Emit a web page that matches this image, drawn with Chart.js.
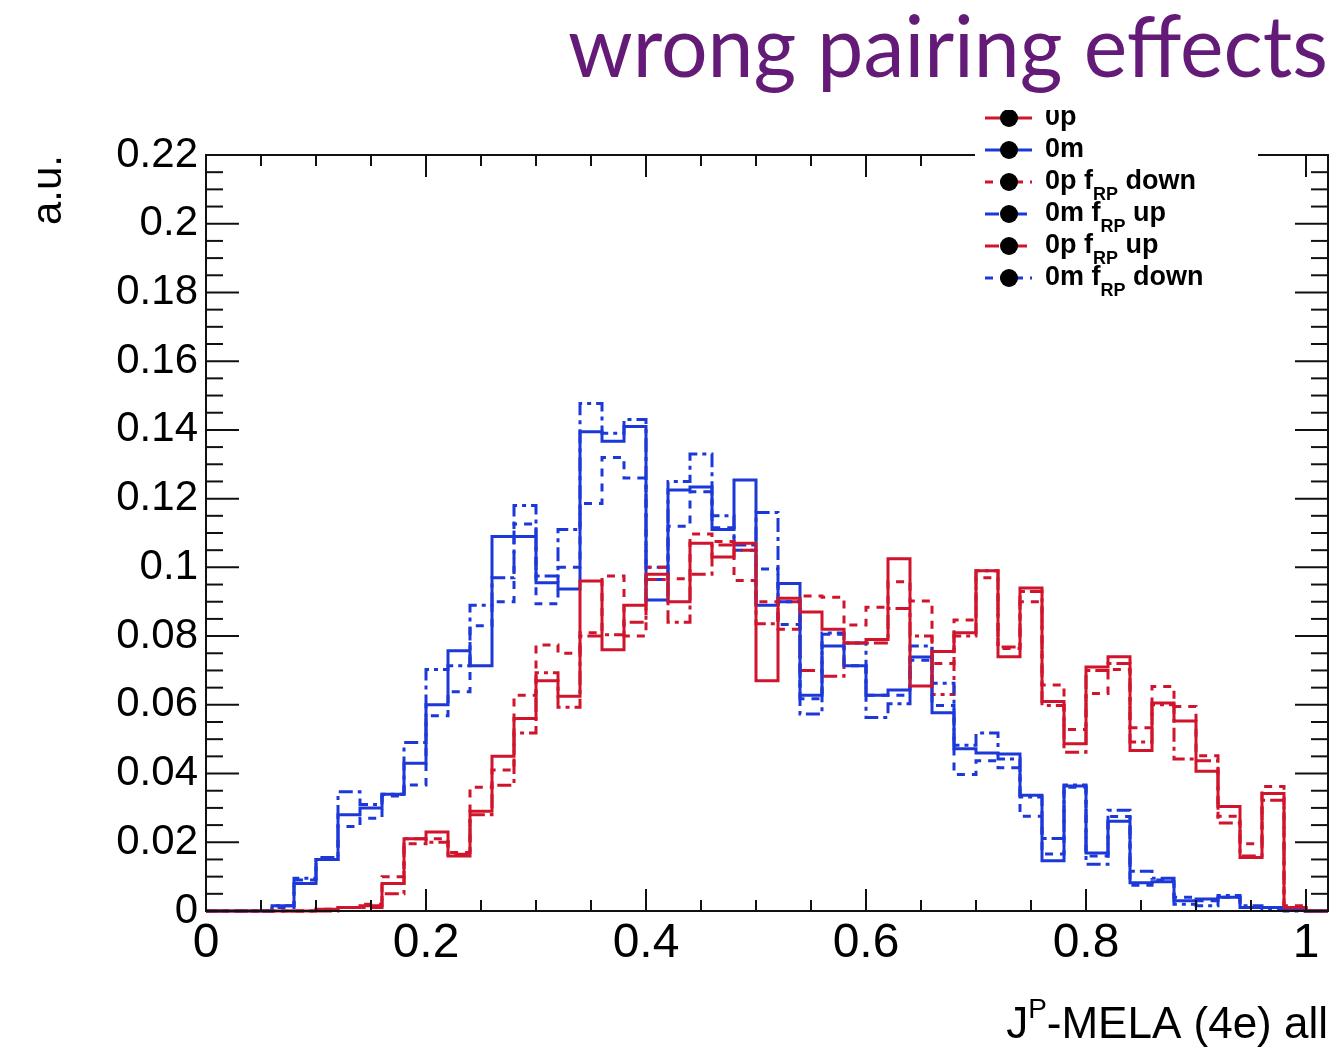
<!DOCTYPE html>
<html>
<head>
<meta charset="utf-8">
<title>wrong pairing effects</title>
<script src="https://cdn.jsdelivr.net/npm/chart.js@4.4.1/dist/chart.umd.min.js"></script>
<style>
  html, body { margin: 0; padding: 0; background: #fff; }
  canvas { display: block; }
</style>
</head>
<body>
<canvas id="mela" width="1343" height="1048"></canvas>
<script>
// JP-MELA (4e) all, 51 bins of 0.02 from 0 to 1.02
const zeroP = [0, 0, 0, 0, 0, 0.0005, 0.001, 0.0015, 0.008, 0.021,
  0.023, 0.016, 0.029, 0.045, 0.056, 0.067, 0.0625, 0.096, 0.076, 0.089,
  0.098, 0.090, 0.107, 0.103, 0.107, 0.067, 0.091, 0.087, 0.082, 0.078,
  0.079, 0.1025, 0.0655, 0.0755, 0.081, 0.099, 0.074, 0.094, 0.061, 0.0487,
  0.071, 0.074, 0.0467, 0.0605, 0.0553, 0.0407, 0.0304, 0.0156, 0.0342, 0.001,
  0];
const zeroM = [0, 0, 0, 0.0015, 0.008, 0.015, 0.028, 0.030, 0.034, 0.043,
  0.060, 0.0757, 0.0714, 0.109, 0.109, 0.0955, 0.0937, 0.1395, 0.1367, 0.141,
  0.0905, 0.1225, 0.1234, 0.111, 0.1254, 0.089, 0.0953, 0.0628, 0.0771, 0.0714,
  0.0628, 0.0643, 0.0739, 0.0577, 0.0472, 0.046, 0.0457, 0.0337, 0.0146, 0.0364,
  0.0169, 0.0261, 0.0082, 0.0085, 0.003, 0.0035, 0.004, 0.001, 0.001, 0.0005,
  0];
const zeroPDown = [0, 0, 0, 0, 0, 0.0005, 0.001, 0.002, 0.010, 0.0196,
  0.021, 0.017, 0.036, 0.041, 0.0628, 0.0774, 0.075, 0.081, 0.0975, 0.080,
  0.100, 0.0967, 0.1097, 0.1075, 0.0962, 0.090, 0.082, 0.0917, 0.0913, 0.0832,
  0.0884, 0.0958, 0.0902, 0.072, 0.0847, 0.097, 0.0764, 0.090, 0.0658, 0.0528,
  0.0633, 0.0703, 0.0533, 0.0653, 0.0595, 0.0452, 0.0276, 0.0196, 0.0362, 0.0015,
  0];
const zeroMUp = [0, 0, 0, 0.0015, 0.0095, 0.0156, 0.0347, 0.031, 0.034, 0.049,
  0.0703, 0.0714, 0.089, 0.097, 0.118, 0.0975, 0.111, 0.1477, 0.139, 0.143,
  0.100, 0.125, 0.133, 0.115, 0.1065, 0.116, 0.090, 0.0573, 0.0809, 0.078,
  0.0563, 0.0603, 0.0771, 0.0663, 0.0482, 0.0518, 0.0442, 0.0332, 0.0211, 0.0367,
  0.0136, 0.0293, 0.0116, 0.0095, 0.002, 0.0015, 0.0045, 0.0015, 0.0005, 0,
  0];
const zeroPUp = [0, 0, 0, 0, 0, 0, 0.001, 0.001, 0.005, 0.021,
  0.020, 0.0165, 0.028, 0.0366, 0.0518, 0.0693, 0.0593, 0.080, 0.0804, 0.084,
  0.0965, 0.084, 0.098, 0.1065, 0.105, 0.0836, 0.090, 0.070, 0.0683, 0.078,
  0.078, 0.088, 0.080, 0.063, 0.080, 0.099, 0.0768, 0.093, 0.0598, 0.0462,
  0.070, 0.072, 0.0492, 0.060, 0.0442, 0.0437, 0.0256, 0.016, 0.0322, 0.001,
  0];
const zeroMDown = [0, 0, 0, 0.001, 0.009, 0.015, 0.0246, 0.027, 0.0335, 0.0367,
  0.0568, 0.0638, 0.083, 0.090, 0.1126, 0.0894, 0.100, 0.1186, 0.132, 0.126,
  0.0965, 0.112, 0.122, 0.1115, 0.105, 0.0995, 0.0834, 0.0618, 0.0805, 0.0714,
  0.0628, 0.0628, 0.073, 0.0598, 0.0397, 0.0437, 0.0417, 0.0276, 0.0166, 0.036,
  0.016, 0.0275, 0.0075, 0.009, 0.004, 0.003, 0.004, 0.001, 0.001, 0.0005,
  0];

const xTicks = [0, 0.2, 0.4, 0.6, 0.8, 1];
const legendNames = [
  ["0p"], ["0m"],
  ["0p f", "RP", " down"], ["0m f", "RP", " up"],
  ["0p f", "RP", " up"], ["0m f", "RP", " down"]
];

const RED = "#d0142c";
const BLUE = "#1c38d8";
const DASH = [8, 7];
const DASHDOT = [14, 5, 4, 5];

const binEdges = [];
for (let i = 0; i <= zeroP.length; i++) binEdges.push(+(i * 0.02).toFixed(2));

function toSteps(vals) {
  const pts = vals.map((v, i) => ({ x: binEdges[i], y: v }));
  pts.push({ x: binEdges[vals.length], y: vals[vals.length - 1] });
  return pts;
}

function histo(label, vals, color, dash) {
  return {
    label: label,
    data: toSteps(vals),
    borderColor: color,
    borderWidth: 3,
    borderDash: dash,
    stepped: true,
    pointRadius: 0,
    fill: false,
    clip: 6
  };
}

const series = [
  histo("0p", zeroP, RED, []),
  histo("0m", zeroM, BLUE, []),
  histo("0p fRP down", zeroPDown, RED, DASH),
  histo("0m fRP up", zeroMUp, BLUE, DASHDOT),
  histo("0p fRP up", zeroPUp, RED, DASHDOT),
  histo("0m fRP down", zeroMDown, BLUE, DASH)
];

function seg(ctx, x1, y1, x2, y2) {
  ctx.beginPath();
  ctx.moveTo(x1, y1);
  ctx.lineTo(x2, y2);
  ctx.stroke();
}

// frame with inward ticks, legend, titles
const decorations = {
  id: "decorations",
  afterDatasetsDraw(chart) {
    const { ctx, chartArea: a } = chart;
    const xs = chart.scales.x, ys = chart.scales.y;
    ctx.save();
    ctx.strokeStyle = "#111";
    ctx.lineWidth = 2;
    ctx.strokeRect(a.left, a.top, a.right - a.left, a.bottom - a.top);

    ctx.lineWidth = 2;
    for (let i = 0; i <= 44; i++) {
      const py = ys.getPixelForValue(i * 0.005);
      const len = i % 4 === 0 ? 33 : 17;
      seg(ctx, a.left, py, a.left + len, py);
      seg(ctx, a.right, py, a.right - len, py);
    }
    for (let i = 0; i <= 20; i++) {
      const px = xs.getPixelForValue(i * 0.05);
      const len = i % 4 === 0 ? 22 : 11;
      seg(ctx, px, a.bottom, px, a.bottom - len);
      seg(ctx, px, a.top, px, a.top + len);
    }

    // legend box (covers the top frame)
    ctx.fillStyle = "#fff";
    ctx.fillRect(975, 96, 283, 196);
    series.forEach((ds, i) => {
      const cy = 118 + i * 32;
      ctx.strokeStyle = ds.borderColor;
      ctx.lineWidth = 3;
      ctx.setLineDash(ds.borderDash);
      seg(ctx, 985, cy, 1032, cy);
      ctx.setLineDash([]);
      ctx.fillStyle = "#000";
      ctx.beginPath();
      ctx.arc(1009, cy, 9, 0, Math.PI * 2);
      ctx.fill();

      const parts = legendNames[i];
      let tx = 1045;
      ctx.textBaseline = "middle";
      ctx.textAlign = "left";
      parts.forEach((p, k) => {
        const sub = k === 1;
        ctx.font = sub ? 'bold 18px "Liberation Sans"' : 'bold 27px "Liberation Sans"';
        ctx.fillText(p, tx, sub ? cy + 13 : cy);
        tx += ctx.measureText(p).width;
      });
    });

    // heading strip clips the first legend row, as in the slide
    ctx.fillStyle = "#fff";
    ctx.fillRect(960, 0, 383, 110);
    ctx.fillStyle = "#641b77";
    ctx.font = '86px "Lato"';
    ctx.textBaseline = "alphabetic";
    ctx.textAlign = "left";
    const head = "wrong pairing effects";
    const w = ctx.measureText(head).width;
    ctx.save();
    ctx.translate(1328, 77);
    ctx.scale(760 / w, 1);
    ctx.fillText(head, -w, 0);
    ctx.restore();

    // x axis title with superscript
    ctx.fillStyle = "#000";
    const big = '44px "Liberation Sans"', sup = '28px "Liberation Sans"';
    ctx.font = big; const w1 = ctx.measureText("J").width;
    const w3 = ctx.measureText("-MELA (4e) all").width;
    ctx.font = sup; const w2 = ctx.measureText("P").width;
    let sx = 1328 - (w1 + w2 + w3);
    ctx.font = big; ctx.fillText("J", sx, 1038); sx += w1;
    ctx.font = sup; ctx.fillText("P", sx, 1018); sx += w2;
    ctx.font = big; ctx.fillText("-MELA (4e) all", sx, 1038);
    ctx.restore();
  }
};

new Chart(document.getElementById("mela").getContext("2d"), {
  type: "line",
  data: { datasets: series },
  options: {
    responsive: false,
    animation: false,
    devicePixelRatio: 1,
    layout: { padding: { left: 0, top: 155, right: 15, bottom: 0 } },
    plugins: { legend: { display: false }, tooltip: { enabled: false } },
    scales: {
      x: {
        type: "linear",
        min: 0,
        max: 1.02,
        grid: { display: false, drawTicks: false },
        border: { display: false },
        afterBuildTicks: (s) => { s.ticks = xTicks.map(v => ({ value: v })); },
        afterFit: (s) => { s.height = 137; },
        ticks: {
          padding: 4,
          maxRotation: 0,
          color: "#000",
          font: { family: '"Liberation Sans Narrow", "Liberation Sans"', size: 48 },
          callback: (v) => String(+v.toFixed(2))
        }
      },
      y: {
        min: 0,
        max: 0.22,
        grid: { display: false, drawTicks: false },
        border: { display: false },
        afterFit: (s) => { s.width = 206; },
        ticks: {
          stepSize: 0.02,
          padding: 8,
          color: "#000",
          font: { family: '"Liberation Sans"', size: 42 },
          callback: (v) => String(+v.toFixed(2))
        },
        title: {
          display: true,
          text: "a.u.",
          align: "end",
          color: "#000",
          font: { family: '"Liberation Sans"', size: 42 },
          padding: { top: 24, bottom: 0 }
        }
      }
    }
  },
  plugins: [decorations]
});
</script>
</body>
</html>
